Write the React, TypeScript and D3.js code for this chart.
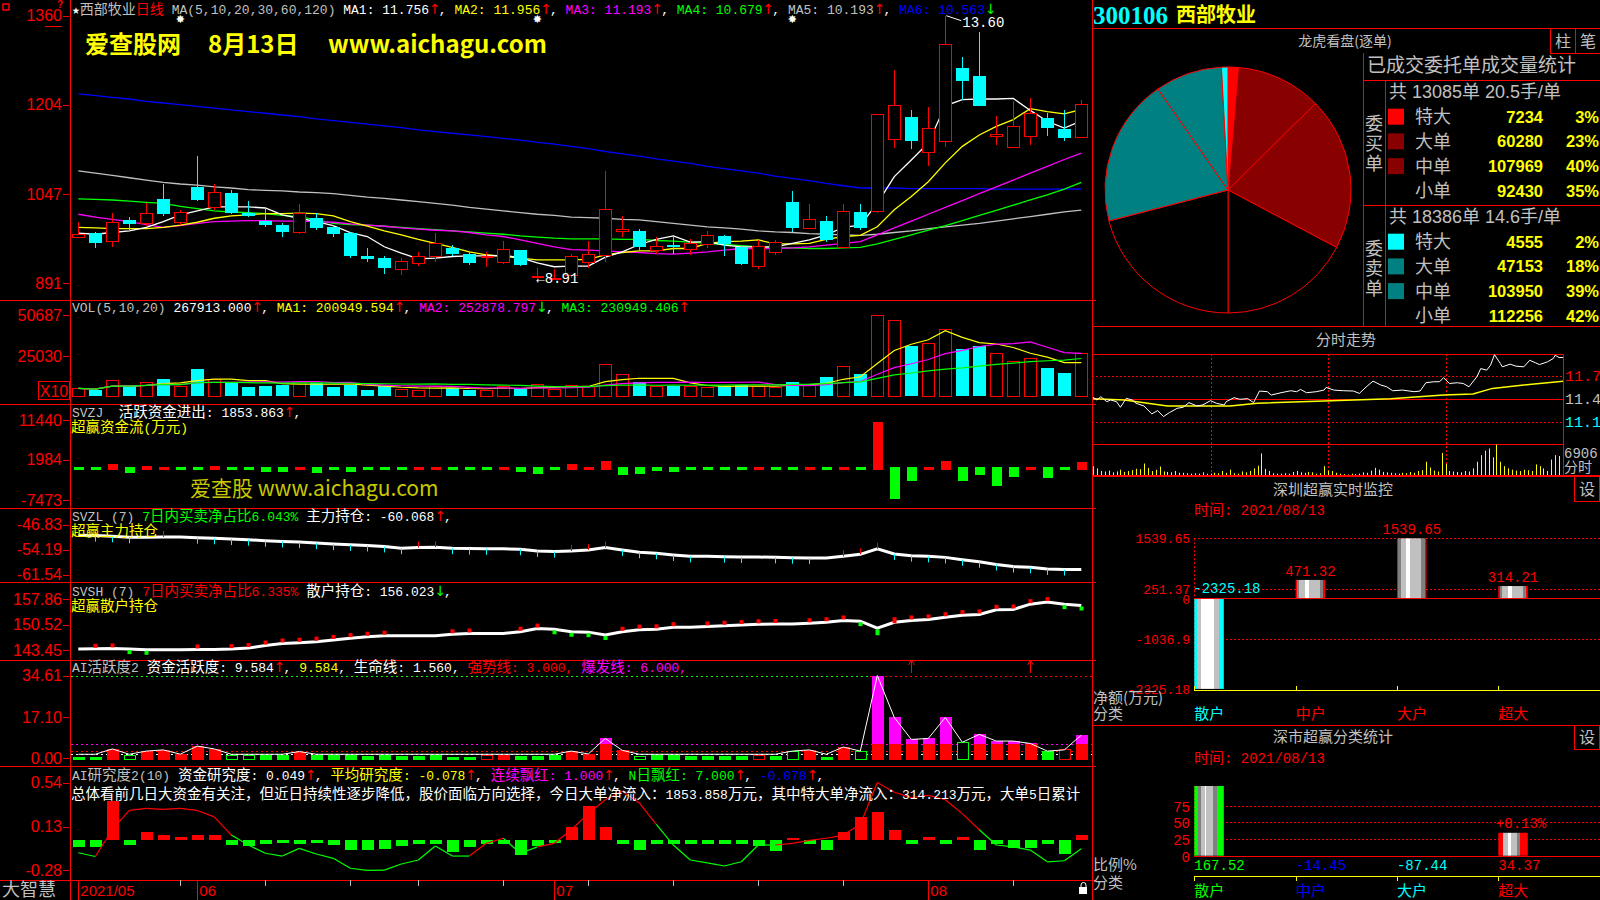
import React from 'react';
import * as d3 from 'd3';

// ---------- fonts & colours ----------
const MONO = '"Liberation Mono", "DejaVu Sans Mono", monospace';
const CJK = '"Noto Sans CJK SC", "Noto Sans", sans-serif';
const SANS = '"Liberation Sans", "Noto Sans CJK SC", sans-serif';
const ARROW = '"DejaVu Sans", sans-serif';
const RED = '#ff0000';
const CYAN = '#00ffff';
const GRAY = '#c0c0c0';
const YEL = '#ffff00';
const MAG = '#ff00ff';
const GRN = '#00ff00';
const BLUE = '#0000ff';
const WHITE = '#ffffff';

// ---------- daily bars, 2021-05-21 .. 2021-08-13 ----------
const monthTicks = [
  { i: 0, label: '2021/05' },
  { i: 7, label: '06' },
  { i: 28, label: '07' },
  { i: 50, label: '08' },
];
const weekTicks = [6, 11, 16, 20, 25, 30, 35, 40, 45, 55];

const opens = [9.73, 9.79, 9.66, 10.02, 9.96, 10.38, 9.99, 10.6, 10.24, 10.49, 10.14, 10.01, 9.93, 9.81, 10.05, 9.9, 9.79, 9.38, 9.35, 9.16, 9.27, 9.38, 9.53, 9.43, 9.38, 9.29, 9.49, 9.02, 9.0, 9.06, 9.29, 9.4, 9.82, 9.83, 9.49, 9.58, 9.51, 9.6, 9.74, 9.55, 9.22, 9.45, 10.34, 9.88, 10.0, 9.55, 10.16, 10.17, 11.44, 11.83, 11.21, 11.4, 12.69, 12.55, 11.5, 11.3, 11.49, 11.8, 11.62, 11.47];
const closes = [9.77, 9.62, 9.99, 9.95, 10.14, 10.13, 10.16, 10.37, 10.51, 10.14, 10.09, 9.94, 9.81, 10.14, 9.88, 9.78, 9.39, 9.33, 9.18, 9.3, 9.38, 9.61, 9.43, 9.27, 9.39, 9.51, 9.23, 9.03, 9.01, 9.38, 9.42, 10.21, 9.87, 9.55, 9.56, 9.55, 9.61, 9.75, 9.6, 9.25, 9.57, 9.63, 9.88, 10.03, 9.67, 10.18, 9.88, 11.88, 12.04, 11.41, 11.63, 13.11, 12.45, 12.01, 11.52, 11.67, 11.9, 11.64, 11.45, 12.05];
const highs = [9.98, 9.81, 10.14, 10.07, 10.31, 10.65, 10.2, 11.14, 10.65, 10.55, 10.35, 10.21, 9.96, 10.3, 10.14, 9.93, 9.81, 9.52, 9.38, 9.35, 9.46, 9.79, 9.58, 9.46, 9.45, 9.66, 9.49, 9.17, 9.16, 9.43, 9.66, 10.88, 10.09, 9.87, 9.72, 9.72, 9.68, 9.82, 9.75, 9.59, 9.67, 9.67, 10.53, 10.3, 10.09, 10.3, 10.3, 11.88, 12.64, 11.95, 12.0, 13.6, 12.88, 13.32, 11.84, 12.11, 12.15, 11.9, 11.95, 12.12];
const lows = [9.71, 9.52, 9.55, 9.83, 9.91, 10.09, 9.93, 10.35, 10.2, 10.13, 10.07, 9.89, 9.73, 9.77, 9.84, 9.72, 9.35, 9.29, 9.08, 9.06, 9.22, 9.29, 9.39, 9.23, 9.19, 9.24, 9.21, 8.91, 8.96, 9.01, 9.17, 9.29, 9.72, 9.49, 9.43, 9.43, 9.4, 9.52, 9.38, 9.23, 9.16, 9.4, 9.81, 9.86, 9.64, 9.54, 9.85, 10.14, 11.29, 11.27, 10.97, 11.3, 12.13, 12.01, 11.33, 11.3, 11.33, 11.5, 11.4, 11.45];

// moving averages as plotted by the terminal (5, 10, 20, 30, 60, 120 days)
const ma5 = [9.79, 9.77, 9.8, 9.83, 9.89, 9.99, 10.11, 10.18, 10.25, 10.25, 10.25, 10.23, 10.11, 10.05, 9.99, 9.92, 9.8, 9.73, 9.55, 9.44, 9.34, 9.35, 9.38, 9.39, 9.39, 9.4, 9.36, 9.27, 9.2, 9.21, 9.21, 9.37, 9.46, 9.59, 9.68, 9.74, 9.63, 9.64, 9.58, 9.55, 9.55, 9.55, 9.61, 9.67, 9.76, 9.89, 9.93, 10.31, 10.78, 11.07, 11.37, 12.02, 12.13, 12.14, 12.14, 12.15, 11.94, 11.75, 11.63, 11.756];
const ma10 = [9.89, 9.88, 9.87, 9.87, 9.87, 9.89, 9.93, 9.98, 10.05, 10.09, 10.11, 10.13, 10.13, 10.14, 10.13, 10.09, 9.99, 9.91, 9.83, 9.76, 9.68, 9.61, 9.54, 9.46, 9.41, 9.38, 9.35, 9.32, 9.32, 9.32, 9.33, 9.41, 9.45, 9.48, 9.48, 9.52, 9.52, 9.61, 9.64, 9.65, 9.67, 9.6, 9.6, 9.61, 9.68, 9.73, 9.75, 9.9, 10.2, 10.43, 10.69, 11.02, 11.31, 11.51, 11.66, 11.78, 11.97, 11.92, 11.88, 11.956];
const ma20 = [10.12, 10.07, 10.03, 9.99, 9.94, 9.89, 9.92, 9.96, 9.99, 10.0, 10.01, 10.01, 10.0, 10.0, 9.99, 9.98, 9.95, 9.93, 9.91, 9.88, 9.86, 9.84, 9.83, 9.8, 9.76, 9.73, 9.67, 9.61, 9.55, 9.5, 9.49, 9.48, 9.46, 9.45, 9.43, 9.42, 9.44, 9.46, 9.49, 9.52, 9.52, 9.52, 9.53, 9.55, 9.58, 9.61, 9.64, 9.76, 9.88, 10.0, 10.12, 10.24, 10.36, 10.48, 10.6, 10.72, 10.84, 10.96, 11.08, 11.193];
const ma30 = [10.39, 10.38, 10.37, 10.35, 10.33, 10.31, 10.26, 10.22, 10.18, 10.16, 10.15, 10.13, 10.1, 10.08, 10.02, 9.96, 9.94, 9.93, 9.91, 9.89, 9.87, 9.85, 9.83, 9.81, 9.79, 9.77, 9.74, 9.72, 9.7, 9.69, 9.69, 9.69, 9.68, 9.68, 9.66, 9.65, 9.63, 9.61, 9.59, 9.57, 9.55, 9.53, 9.53, 9.52, 9.52, 9.53, 9.54, 9.6, 9.68, 9.76, 9.84, 9.92, 10.01, 10.1, 10.19, 10.28, 10.37, 10.46, 10.56, 10.679];
const ma60 = [10.88, 10.84, 10.8, 10.76, 10.72, 10.68, 10.65, 10.63, 10.6, 10.58, 10.55, 10.54, 10.53, 10.51, 10.5, 10.48, 10.45, 10.42, 10.4, 10.37, 10.34, 10.31, 10.28, 10.24, 10.21, 10.18, 10.15, 10.12, 10.1, 10.07, 10.06, 10.05, 10.03, 10.02, 9.99, 9.96, 9.93, 9.9, 9.88, 9.86, 9.83, 9.81, 9.8, 9.78, 9.77, 9.76, 9.75, 9.77, 9.8, 9.83, 9.87, 9.9, 9.93, 9.96, 10.0, 10.04, 10.08, 10.12, 10.16, 10.193];
const ma120 = [12.23, 12.2, 12.17, 12.14, 12.1, 12.07, 12.04, 12.01, 11.98, 11.95, 11.92, 11.89, 11.86, 11.83, 11.79, 11.76, 11.73, 11.7, 11.67, 11.64, 11.6, 11.57, 11.54, 11.51, 11.48, 11.45, 11.42, 11.38, 11.35, 11.31, 11.27, 11.22, 11.18, 11.14, 11.09, 11.05, 11.01, 10.96, 10.92, 10.88, 10.84, 10.79, 10.75, 10.71, 10.66, 10.62, 10.58, 10.58, 10.58, 10.57, 10.57, 10.57, 10.57, 10.57, 10.56, 10.56, 10.56, 10.56, 10.56, 10.563];

// volume (x10 shares)
const volumes = [4800, 3900, 9800, 6100, 8600, 10600, 6100, 16700, 10600, 8600, 5800, 6400, 7100, 9400, 8100, 5800, 7100, 3800, 6100, 4600, 3800, 6400, 4800, 3900, 3800, 6100, 4600, 7500, 4600, 6700, 6400, 20000, 13800, 8600, 6400, 6400, 6000, 5500, 6000, 7000, 6500, 5500, 9000, 7000, 12000, 18800, 13500, 50687, 47600, 31300, 33000, 42000, 29400, 31300, 27000, 22000, 24000, 17500, 14100, 26791];

// SVZJ active fund flow (10k CNY)
const fundFlow = [-200, -200, 1300, -1400, 1000, 300, -200, -300, 1000, -300, -300, -1200, -1200, 300, -1400, -300, -1200, -300, -300, -300, 300, 300, -300, -200, -200, 300, -1300, -1600, -200, 1300, 800, 2200, -2000, -1600, -900, -1200, -300, -300, -300, -200, 300, -200, -300, 300, -300, 600, -300, 11440, -7473, -3300, 300, 2100, -3300, -1800, -4600, -2300, 300, -2600, -300, 1854];

// SVZL main-force holding, SVSH retail holding
const mainHold = [-50.0, -50.1, -50.3, -50.6, -50.6, -50.5, -50.5, -50.7, -50.9, -51.1, -51.3, -51.6, -51.8, -52.0, -52.3, -52.6, -52.8, -53.0, -53.3, -53.8, -53.6, -53.5, -53.8, -53.9, -54.0, -54.0, -54.1, -54.6, -54.8, -54.6, -54.3, -53.6, -54.3, -55.0, -55.3, -55.8, -56.2, -56.2, -56.3, -56.4, -56.4, -56.5, -56.6, -56.7, -56.7, -56.2, -55.6, -54.0, -55.5, -56.0, -56.2, -56.5, -57.2, -57.8, -58.6, -59.2, -59.4, -59.9, -60.1, -60.068];
const retailHold = [143.7, 143.8, 143.9, 143.7, 143.5, 143.5, 143.5, 143.6, 143.6, 143.7, 144.0, 144.7, 145.3, 145.5, 145.8, 146.3, 146.8, 147.2, 147.5, 147.5, 147.5, 147.5, 147.9, 148.1, 148.1, 148.1, 148.6, 149.5, 149.3, 148.6, 148.5, 147.7, 148.6, 149.2, 149.3, 149.9, 149.9, 150.1, 150.3, 150.5, 150.7, 150.8, 150.8, 151.0, 151.3, 151.8, 151.6, 149.6, 151.3, 151.8, 152.1, 152.7, 153.3, 153.5, 154.8, 154.9, 156.4, 157.0, 156.4, 156.023];

// AI activity: value and bar style (r red, R red hollow, g green, G green hollow)
const activity = [0.5, 0.6, 3.8, 1.2, 2.9, 3.4, 1.6, 5.0, 3.8, 1.2, 1.2, 1.2, 1.2, 2.7, 1.2, 1.2, 1.2, 1.0, 1.2, 1.0, 1.0, 1.2, 0.6, 0.5, 1.0, 1.2, 1.0, 1.0, 1.2, 2.9, 1.7, 8.2, 3.2, 0.8, 1.2, 1.2, 1.0, 1.0, 1.0, 0.8, 1.0, 0.8, 2.9, 3.4, 0.6, 4.6, 2.9, 34.61, 17.0, 7.8, 8.2, 17.0, 6.6, 9.9, 7.1, 7.1, 6.1, 2.9, 3.4, 9.584];
const activityStyle = 'ggrGrrrrrGGggrggggggggggRrgggrrrrGggggggRgGrgrGrrrrrGrrrrgRr';
const lifeLine = 1.56;
const strongLine = 3.0;
const burstLine = 6.0;

// AI research: bar values and average line
const research = [-0.065, -0.065, 0.37, -0.043, 0.08, 0.05, 0.03, 0.05, 0.05, -0.043, -0.055, -0.03, -0.027, -0.03, -0.027, -0.043, -0.09, -0.09, -0.076, -0.055, -0.03, -0.03, -0.105, -0.065, -0.03, -0.03, -0.135, -0.055, -0.02, 0.13, 0.32, 0.13, -0.03, -0.09, -0.03, -0.03, -0.03, -0.03, -0.03, -0.03, -0.05, -0.1, 0.02, -0.03, -0.09, 0.08, 0.22, 0.27, 0.1, -0.03, 0.03, -0.03, 0.03, -0.09, -0.03, -0.07, -0.07, -0.03, -0.13, 0.049];
const researchAvg = [-0.115, -0.15, 0.1, 0.28, 0.3, 0.29, 0.3, 0.28, 0.22, 0.05, -0.043, -0.12, -0.146, -0.074, -0.127, -0.167, -0.26, -0.28, -0.277, -0.22, -0.183, -0.052, -0.146, -0.146, -0.027, 0.02, -0.12, -0.06, -0.027, 0.1, 0.25, 0.38, 0.46, 0.35, 0.15, -0.043, -0.183, -0.21, -0.239, -0.199, -0.043, -0.043, -0.027, 0.0, 0.02, 0.05, 0.15, 0.54, 0.45, 0.4, 0.42, 0.38, 0.25, 0.1, -0.043, -0.06, -0.09, -0.2, -0.19, -0.078];
const researchRedFloor = -0.035;

// ---------- order statistics (pie + table) ----------
const orderLabels = ['特大', '大单', '中单', '小单'];
const buyVolumes = [7234, 60280, 107969, 92430];
const buyPct = ['3%', '23%', '40%', '35%'];
const sellVolumes = [4555, 47153, 103950, 112256];
const sellPct = ['2%', '18%', '39%', '42%'];
const buyColors = ['#ff0000', '#880000', '#880000', '#000000'];
const sellColors = ['#00ffff', '#008080', '#008080', '#000000'];

// ---------- intraday ----------
const prevClose = 11.47;
const intradayMinute = [0, 2, 4, 5, 7, 9, 12, 14, 17, 20, 22, 26, 28, 30, 33, 36, 39, 43, 46, 49, 53, 56, 60, 63, 67, 68, 72, 75, 79, 82, 85, 89, 91, 96, 101, 104, 106, 109, 114, 118, 119, 123, 128, 133, 136, 140, 143, 147, 150, 153, 158, 164, 167, 170, 174, 177, 179, 182, 186, 189, 192, 196, 198, 201, 203, 205, 208, 209, 213, 216, 220, 223, 226, 228, 232, 235, 236, 238, 240];
const intradayPrice = [11.497, 11.461, 11.505, 11.483, 11.438, 11.461, 11.438, 11.362, 11.483, 11.461, 11.416, 11.38, 11.326, 11.272, 11.317, 11.236, 11.29, 11.348, 11.362, 11.425, 11.38, 11.393, 11.452, 11.416, 11.393, 11.438, 11.492, 11.47, 11.479, 11.425, 11.582, 11.573, 11.528, 11.559, 11.586, 11.573, 11.604, 11.559, 11.573, 11.595, 11.631, 11.595, 11.586, 11.582, 11.55, 11.649, 11.716, 11.663, 11.64, 11.586, 11.595, 11.573, 11.582, 11.694, 11.708, 11.708, 11.762, 11.685, 11.694, 11.685, 11.64, 11.775, 11.887, 11.865, 11.932, 12.076, 11.955, 11.91, 11.946, 11.919, 11.91, 11.999, 11.964, 11.941, 11.977, 12.022, 12.067, 12.036, 12.036];
const avgMinute = [0, 16, 38, 70, 84, 118, 152, 179, 194, 204, 220, 240];
const avgPrice = [11.479, 11.461, 11.38, 11.38, 11.416, 11.447, 11.479, 11.528, 11.541, 11.618, 11.663, 11.716];
const intradayVol = [
  2000, 1500, 900, 800, 1000, 600, 800, 1200, 700, 900,
  1100, 1400, 1300, 2600, 1600, 900, 1200, 1900, 800, 700,
  600, 900, 500, 500, 400, 300, 400, 300, 600, 300,
  300, 500, 400, 900, 500, 1200, 400, 300, 800, 600,
  900, 1500, 2100, 4900, 1400, 900, 400, 300, 300, 400,
  300, 700, 900, 600, 500, 700, 600, 300, 400, 2000,
  1000, 900, 500, 300, 200, 100, 300, 200, 300, 600,
  500, 1000, 1600, 1200, 700, 600, 500, 400, 300, 500,
  400, 700, 500, 900, 1100, 3000, 1700, 1000, 800, 5000,
  2500, 900, 800, 700, 600, 900, 800, 1500, 3000, 4500,
  5500, 6000, 4000, 6906, 3000, 2000, 1500, 1200, 1000, 900,
  1200, 1100, 900, 2400, 2000, 1500, 900, 3500, 4500, 4300,
];

// ---------- category monitors ----------
const categories = ['散户', '中户', '大户', '超大'];
const netAmount = [-2325.18, 471.32, 1539.65, 314.21];
const netTicks = [1539.65, 251.37, -1036.9, -2325.18];
const ratioValues = [167.52, -14.45, -87.44, 34.37];
const ratioTicks = [0, 25, 50, 75];
const ratioColors = [GRN, BLUE, CYAN, RED];
const netCatColors = [CYAN, RED, RED, RED];

// ---------- helpers ----------
const isCJK = (ch: string) => /[\u2E80-\u9FFF\uFF00-\uFFEF\u3000-\u303F]/.test(ch);
const isArrow = (ch: string) => ch === '↑' || ch === '↓';
function segs(s: string) {
  const out: { t: string; k: number }[] = [];
  for (const ch of s) {
    const k = isArrow(ch) ? 2 : isCJK(ch) ? 1 : 0;
    if (out.length && out[out.length - 1].k === k) out[out.length - 1].t += ch;
    else out.push({ t: ch, k });
  }
  return out;
}
type Run = [string, string];
function Runs({ x, y, runs, size = 13, cjkSize = 14.5, anchor = 'start' }: { x: number; y: number; runs: Run[]; size?: number; cjkSize?: number; anchor?: string }) {
  const parts: any[] = [];
  runs.forEach(([t, col], k) => {
    segs(t).forEach((sg, j) => {
      const fam = sg.k === 1 ? CJK : sg.k === 2 ? ARROW : MONO;
      const fs = sg.k === 1 ? cjkSize : sg.k === 2 ? size + 1 : size;
      parts.push(
        <tspan key={k + '-' + j} fill={col} fontFamily={fam} fontSize={fs} letterSpacing={sg.k === 2 ? -2 : 0}>
          {sg.t}
        </tspan>
      );
    });
  });
  return (
    <text x={x} y={y} textAnchor={anchor as any} xmlSpace="preserve" style={{ whiteSpace: 'pre' }}>
      {parts}
    </text>
  );
}

const N = opens.length;
const days = d3.range(N);
const xDay = d3.scaleLinear().domain([0, N - 1]).range([78.3, 1081.3]);
const px = (i: number) => Math.round(xDay(i)) + 0.5;

// panel scales
const yPrice = d3.scaleLinear().domain([8.91, 13.6]).range([283.3, 15.7]);
const yVol = d3.scaleLinear().domain([-627, 50687]).range([397, 315]);
const yFlow = d3.scaleLinear().domain([-7473, 11440]).range([500, 420]);
const yMain = d3.scaleLinear().domain([-61.54, -46.83]).range([574.5, 524.5]);
const yRetail = d3.scaleLinear().domain([143.45, 157.86]).range([650, 599]);
const yAct = d3.scaleLinear().domain([0, 34.61]).range([758, 675.5]);
const yRes = d3.scaleLinear().domain([-0.28, 0.54]).range([870.4, 782.6]);

const rolling = (arr: number[], n: number) => arr.map((_, i) => d3.mean(arr.slice(Math.max(0, i - n + 1), i + 1)) as number);

function AxisLabels({ scale, values, fmt }: { scale: (v: number) => number; values: number[]; fmt: (v: number) => string }) {
  return (
    <g>
      {values.map((v, k) => (
        <g key={k}>
          <text x={62} y={scale(v) + 5.5} fill={RED} fontFamily={SANS} fontSize={16} textAnchor="end">{fmt(v)}</text>
          <line x1={63} x2={69} y1={Math.round(scale(v)) + 0.5} y2={Math.round(scale(v)) + 0.5} stroke={RED} />
        </g>
      ))}
    </g>
  );
}

export default function App() {
  const lineP = (arr: number[]) => d3.line<number>().x((_, i) => xDay(i)).y((v) => yPrice(v))(arr) || '';
  const maSpecs: [number[], string][] = [
    [ma120, BLUE], [ma60, GRAY], [ma30, GRN], [ma20, MAG], [ma10, YEL], [ma5, WHITE],
  ];
  const vMa = [[rolling(volumes, 5), YEL], [rolling(volumes, 10), MAG], [rolling(volumes, 20), GRN]] as [number[], string][];

  // pie
  const pieData = [
    ...buyVolumes.map((v, k) => ({ v, c: buyColors[k] })),
    ...sellVolumes.map((v, k) => ({ v, c: sellColors[k] })).reverse(),
  ];
  const pie = d3.pie<{ v: number; c: string }>().sort(null).value((d) => d.v)(pieData);
  const arc = d3.arc<d3.PieArcDatum<{ v: number; c: string }>>().innerRadius(0).outerRadius(123);

  // intraday scales
  const xMin = d3.scaleLinear().domain([0, 240]).range([1093, 1563]);
  const yIntra = d3.scaleLinear().domain([10.86, 12.08]).range([444.3, 354.3]);
  const yIntraVol = d3.scaleLinear().domain([0, 6906]).range([475, 444.5]);
  const intraLine = d3.line<number>().x((_, k) => xMin(intradayMinute[k])).y((v) => yIntra(v))(intradayPrice) || '';
  const avgLine = d3.line<number>().x((_, k) => xMin(avgMinute[k])).y((v) => yIntra(v))(avgPrice) || '';

  // category scales
  const xCat = d3.scaleLinear().domain([0, 3]).range([1194.3, 1498.3]);
  const yNet = d3.scaleLinear().domain([-2325.18, 1539.65]).range([688.9, 538.3]);
  const yRatio = d3.scaleLinear().domain([0, 75]).range([855.7, 805.7]);
  const ratioTop = 786;
  const barW = 29.5;

  const hline = (y: number, x1: number, x2: number, color = RED, dash?: string) => (
    <line x1={x1} x2={x2} y1={Math.round(y) + 0.5} y2={Math.round(y) + 0.5} stroke={color} strokeDasharray={dash} />
  );
  const vline = (x: number, y1: number, y2: number, color = RED, dash?: string) => (
    <line x1={Math.round(x) + 0.5} x2={Math.round(x) + 0.5} y1={y1} y2={y2} stroke={color} strokeDasharray={dash} />
  );

  return (
    <svg width={1600} height={900} style={{ position: 'fixed', left: 0, top: 0, background: '#000' }}>
      <defs>
        <clipPath id="leftClip"><rect x={71} y={0} width={1021} height={900} /></clipPath>
        <linearGradient id="barPos" x1="0" x2="1" y1="0" y2="0">
          <stop offset="0" stopColor={RED} /><stop offset="0.05" stopColor={RED} />
          <stop offset="0.05" stopColor="#808080" /><stop offset="0.13" stopColor="#808080" />
          <stop offset="0.13" stopColor={GRAY} /><stop offset="0.32" stopColor={GRAY} />
          <stop offset="0.32" stopColor={WHITE} /><stop offset="0.45" stopColor={WHITE} />
          <stop offset="0.45" stopColor={GRAY} /><stop offset="0.83" stopColor={GRAY} />
          <stop offset="0.83" stopColor="#808080" /><stop offset="0.94" stopColor="#808080" />
          <stop offset="0.94" stopColor={RED} /><stop offset="1" stopColor={RED} />
        </linearGradient>
        <linearGradient id="barNeg" x1="0" x2="1" y1="0" y2="0">
          <stop offset="0" stopColor={CYAN} /><stop offset="0.08" stopColor={CYAN} />
          <stop offset="0.08" stopColor={GRAY} /><stop offset="0.23" stopColor={GRAY} />
          <stop offset="0.23" stopColor={WHITE} /><stop offset="0.66" stopColor={WHITE} />
          <stop offset="0.66" stopColor={GRAY} /><stop offset="0.83" stopColor={GRAY} />
          <stop offset="0.83" stopColor={CYAN} /><stop offset="1" stopColor={CYAN} />
        </linearGradient>
        <linearGradient id="barGreen" x1="0" x2="1" y1="0" y2="0">
          <stop offset="0" stopColor={GRN} /><stop offset="0.13" stopColor={GRN} />
          <stop offset="0.13" stopColor="#808080" /><stop offset="0.22" stopColor="#808080" />
          <stop offset="0.22" stopColor={GRAY} /><stop offset="0.36" stopColor={GRAY} />
          <stop offset="0.36" stopColor={WHITE} /><stop offset="0.39" stopColor={WHITE} />
          <stop offset="0.39" stopColor={GRAY} /><stop offset="0.64" stopColor={GRAY} />
          <stop offset="0.64" stopColor="#808080" /><stop offset="0.77" stopColor="#808080" />
          <stop offset="0.77" stopColor={GRN} /><stop offset="1" stopColor={GRN} />
        </linearGradient>
        <linearGradient id="barRed" x1="0" x2="1" y1="0" y2="0">
          <stop offset="0" stopColor={RED} /><stop offset="0.17" stopColor={RED} />
          <stop offset="0.17" stopColor={GRAY} /><stop offset="0.34" stopColor={GRAY} />
          <stop offset="0.34" stopColor={WHITE} /><stop offset="0.42" stopColor={WHITE} />
          <stop offset="0.42" stopColor={GRAY} /><stop offset="0.62" stopColor={GRAY} />
          <stop offset="0.62" stopColor="#808080" /><stop offset="0.74" stopColor="#808080" />
          <stop offset="0.74" stopColor={RED} /><stop offset="1" stopColor={RED} />
        </linearGradient>
      </defs>
      <rect x={0} y={0} width={1600} height={900} fill="#000" />

      {/* ---------------- left frame ---------------- */}
      {vline(70, 0, 900)}
      {vline(1092, 0, 900)}
      {[300, 404, 508, 582, 660, 766, 880].map((y) => <g key={y}>{hline(y, 0, 1096)}</g>)}
      <rect x={3} y={4} width={6} height={6} fill="none" stroke={RED} strokeWidth={1.5} />
      <text x={60} y={8} fill={RED} fontFamily={SANS} fontWeight="bold" fontSize={10} textAnchor="middle">?</text>

      {/* axis labels */}
      <AxisLabels scale={yPrice} values={d3.range(4).map((k) => 8.91 + (k * (13.6 - 8.91)) / 3)} fmt={(v) => String(Math.round(v * 100))} />
      <line x1={45} x2={62} y1={26.5} y2={26.5} stroke={RED} />
      <AxisLabels scale={yVol} values={[50687, 25030]} fmt={(v) => String(v)} />
      <rect x={38.5} y={381.5} width={31} height={18} fill="none" stroke={RED} />
      <text x={54} y={397} fill={RED} fontFamily={SANS} fontSize={16} textAnchor="middle">X10</text>
      <AxisLabels scale={yFlow} values={[11440, 1984, -7473]} fmt={(v) => String(v)} />
      <AxisLabels scale={yMain} values={[-46.83, -54.19, -61.54]} fmt={(v) => v.toFixed(2)} />
      <AxisLabels scale={yRetail} values={[157.86, 150.52, 143.45]} fmt={(v) => v.toFixed(2)} />
      <AxisLabels scale={yAct} values={[34.61, 17.1, 0]} fmt={(v) => v.toFixed(2)} />
      <AxisLabels scale={yRes} values={[0.54, 0.13, -0.28]} fmt={(v) => v.toFixed(2)} />

      <g clipPath="url(#leftClip)">
        {/* ---------------- price panel ---------------- */}
        {maSpecs.map(([arr, c], k) => (
          <path key={k} d={lineP(arr)} fill="none" stroke={c} strokeWidth={1.3} />
        ))}
        {days.map((i) => {
          const up = closes[i] >= opens[i];
          const x = px(i);
          const yo = yPrice(opens[i]);
          const yc = yPrice(closes[i]);
          const top = Math.round(Math.min(yo, yc));
          const bot = Math.round(Math.max(yo, yc));
          const col = up ? RED : CYAN;
          return (
            <g key={i} shapeRendering="crispEdges">
              <line x1={x} x2={x} y1={yPrice(highs[i])} y2={top} stroke={col} />
              <line x1={x} x2={x} y1={bot} y2={yPrice(lows[i])} stroke={col} />
              {up ? (
                bot - top < 2 ? (
                  <line x1={x - 6} x2={x + 6} y1={top + 0.5} y2={top + 0.5} stroke={col} strokeWidth={2} />
                ) : (
                  <rect x={x - 6} y={top + 0.5} width={12} height={bot - top} fill="#000" stroke={col} strokeWidth={1.4} />
                )
              ) : (
                <rect x={x - 6.5} y={top} width={13} height={Math.max(bot - top, 2)} fill={col} />
              )}
            </g>
          );
        })}
        {/* extreme price notes */}
        {(() => {
          const iMax = d3.maxIndex(highs);
          const iMin = d3.minIndex(lows);
          return (
            <g fill={WHITE} fontFamily={MONO} fontSize={14}>
              <line x1={xDay(iMax) + 1} y1={yPrice(highs[iMax])} x2={xDay(iMax) + 16} y2={yPrice(highs[iMax]) + 5} stroke={WHITE} />
              <text x={xDay(iMax) + 17} y={yPrice(highs[iMax]) + 11}>{highs[iMax].toFixed(2)}</text>
              <text x={xDay(iMin) - 1} y={yPrice(lows[iMin]) + 0}>{'←' + lows[iMin].toFixed(2)}</text>
            </g>
          );
        })()}
        {[6, 27, 42].map((i) => (
          <text key={i} x={xDay(i)} y={23} fill={WHITE} fontFamily='"DejaVu Sans"' fontSize={11} textAnchor="middle">✸</text>
        ))}
        <Runs x={72} y={14} cjkSize={14} runs={[
          ['★', WHITE], ['西部牧业', GRAY], ['日线', RED], [' MA(5,10,20,30,60,120) ', GRAY],
          ['MA1: 11.756', WHITE], ['↑', RED], [', ', WHITE],
          ['MA2: 11.956', YEL], ['↑', RED], [', ', WHITE],
          ['MA3: 11.193', MAG], ['↑', RED], [', ', WHITE],
          ['MA4: 10.679', GRN], ['↑', RED], [', ', WHITE],
          ['MA5: 10.193', GRAY], ['↑', RED], [', ', WHITE],
          ['MA6: 10.563', BLUE], ['↓', GRN],
        ]} />
        <text y={53} fill={YEL} fontFamily={CJK} fontWeight="bold" fontSize={24}>
          <tspan x={85}>爱查股网</tspan>
          <tspan x={208}>8月13日</tspan>
          <tspan x={328}>www.aichagu.com</tspan>
        </text>

        {/* ---------------- volume panel ---------------- */}
        {days.map((i) => {
          const up = closes[i] >= opens[i];
          const x = px(i);
          const t = Math.round(yVol(volumes[i]));
          const b = Math.round(yVol(0));
          return up ? (
            <rect key={i} x={x - 6} y={t + 0.5} width={12} height={b - t - 0.5} fill="none" stroke={RED} shapeRendering="crispEdges" />
          ) : (
            <rect key={i} x={x - 6.5} y={t} width={13} height={b - t} fill={CYAN} shapeRendering="crispEdges" />
          );
        })}
        {vMa.map(([arr, c], k) => (
          <path key={k} d={d3.line<number>().x((_, i) => xDay(i)).y((v) => yVol(v))(arr) || ''} fill="none" stroke={c} strokeWidth={1.2} />
        ))}
        <Runs x={72} y={312} runs={[
          ['VOL(5,10,20) ', GRAY], ['267913.000', WHITE], ['↑', RED], [', ', WHITE],
          ['MA1: 200949.594', YEL], ['↑', RED], [', ', WHITE],
          ['MA2: 252878.797', MAG], ['↓', GRN], [', ', WHITE],
          ['MA3: 230949.406', GRN], ['↑', RED],
        ]} />

        {/* ---------------- SVZJ panel ---------------- */}
        {days.map((i) => {
          const v = fundFlow[i];
          const y0 = yFlow(0);
          const y1 = yFlow(v);
          const h = Math.max(Math.abs(y1 - y0), 3);
          const top = v >= 0 ? y0 - h + 1.5 : y0 - 1.5;
          return <rect key={i} x={px(i) - 5} y={top} width={10} height={h} fill={v >= 0 ? RED : GRN} shapeRendering="crispEdges" />;
        })}
        <Runs x={72} y={417} runs={[['SVZJ  ', GRAY], ['活跃资金进出: 1853.863', WHITE], ['↑', RED], [',', WHITE]]} />
        <Runs x={71} y={432} runs={[['超赢资金流(万元)', YEL]]} />
        <text x={190} y={496} fill="#c8c800" fontFamily={CJK} fontSize={21}>爱查股 www.aichagu.com</text>

        {/* ---------------- SVZL panel ---------------- */}
        <path d={d3.line<number>().x((_, i) => xDay(i)).y((v) => yMain(v))(mainHold) || ''} fill="none" stroke={WHITE} strokeWidth={3} />
        {days.slice(1).map((i) => {
          const d = mainHold[i] - mainHold[i - 1];
          if (Math.abs(d) < 0.05) return null;
          const y = yMain(mainHold[i]);
          return <line key={i} x1={px(i)} x2={px(i)} y1={d > 0 ? y - 6 : y} y2={d > 0 ? y : y + 6} stroke={d > 0 ? RED : CYAN} />;
        })}
        <Runs x={72} y={521} runs={[['SVZL (7) ', GRAY], ['7日内买卖净占比6.043%', GRN], [' 主力持仓: -60.068', WHITE], ['↑', RED], [',', WHITE]]} />
        <Runs x={71} y={536} runs={[['超赢主力持仓', YEL]]} />

        {/* ---------------- SVSH panel ---------------- */}
        <path d={d3.line<number>().x((_, i) => xDay(i)).y((v) => yRetail(v))(retailHold) || ''} fill="none" stroke={WHITE} strokeWidth={3} />
        {days.slice(1).map((i) => {
          const d = retailHold[i] - retailHold[i - 1];
          if (Math.abs(d) < 0.05) return null;
          const y = yRetail(retailHold[i]);
          return <rect key={i} x={px(i) - 2} y={d > 0 ? y - 5 : y + 1} width={4} height={Math.abs(d) > 1.5 ? 6 : 4} fill={d > 0 ? RED : GRN} />;
        })}
        <Runs x={72} y={596} runs={[['SVSH (7) ', GRAY], ['7日内买卖净占比6.335%', RED], [' 散户持仓: 156.023', WHITE], ['↓', GRN], [',', WHITE]]} />
        <Runs x={71} y={611} runs={[['超赢散户持仓', YEL]]} />

        {/* ---------------- AI activity panel ---------------- */}
        {hline(yAct(34.61), 71, 870, GRN, '2 3')}
        {hline(yAct(34.61), 870, 1092, RED, '2 3')}
        {hline(yAct(burstLine), 71, 1092, MAG, '2 3')}
        {hline(yAct(strongLine), 71, 1092, RED, '2 3')}
        {hline(yAct(lifeLine), 71, 1092, WHITE, '2 3')}
        {days.map((i) => {
          const v = activity[i];
          const s = activityStyle[i];
          const x = px(i);
          const base = yAct(0) + 2;
          const isRed = s === 'r' || s === 'R';
          const col = isRed ? RED : GRN;
          const hollow = s === 'R' || s === 'G';
          const capped = isRed && v > burstLine;
          const yTop = yAct(capped ? burstLine : v);
          return (
            <g key={i} shapeRendering="crispEdges">
              {hollow ? (
                <rect x={x - 5.5} y={yTop} width={11} height={base - yTop - 0.5} fill="#000" stroke={col} />
              ) : (
                <rect x={x - 6} y={yTop} width={12} height={base - yTop} fill={col} />
              )}
              {capped && <rect x={x - 6} y={yAct(v)} width={12} height={yAct(burstLine) - yAct(v)} fill={MAG} />}
            </g>
          );
        })}
        <path d={d3.line<number>().x((_, i) => xDay(i)).y((v) => yAct(Math.max(v, lifeLine)))(activity) || ''} fill="none" stroke={WHITE} strokeWidth={1} />
        {[49, 56].map((i) => (
          <g key={i} stroke={RED} fill="none">
            <line x1={px(i)} x2={px(i)} y1={673} y2={661} />
            <path d={`M${px(i) - 3},665 L${px(i)},660 L${px(i) + 3},665`} />
          </g>
        ))}
        <Runs x={72} y={672} runs={[
          ['AI活跃度2 ', GRAY], ['资金活跃度: 9.584', WHITE], ['↑', RED], [', ', WHITE], ['9.584', YEL], [', ', WHITE],
          ['生命线: 1.560, ', WHITE], ['强势线: 3.000, ', RED], ['爆发线: 6.000,', MAG],
        ]} />

        {/* ---------------- AI research panel ---------------- */}
        {days.map((i) => {
          const v = research[i];
          const y0 = yRes(0);
          const y1 = yRes(v);
          return <rect key={i} x={px(i) - 6} y={Math.min(y0, y1)} width={12} height={Math.max(Math.abs(y1 - y0), 2)} fill={v >= 0 ? RED : GRN} shapeRendering="crispEdges" />;
        })}
        {days.slice(1).map((i) => (
          <line key={i} x1={xDay(i - 1)} x2={xDay(i)} y1={yRes(researchAvg[i - 1])} y2={yRes(researchAvg[i])}
            stroke={researchAvg[i] > researchRedFloor ? RED : GRN} strokeWidth={1.2} />
        ))}
        <Runs x={72} y={780} runs={[
          ['AI研究度2(10) ', GRAY], ['资金研究度: 0.049', WHITE], ['↑', RED], [', ', WHITE],
          ['平均研究度: -0.078', YEL], ['↑', RED], [', ', WHITE],
          ['连续飘红: 1.000', MAG], ['↑', RED], [', ', WHITE],
          ['N日飘红: 7.000', GRN], ['↑', RED], [', ', WHITE], ['-0.078', BLUE], ['↑', RED], [',', WHITE],
        ]} />
        <Runs x={71} y={799} runs={[['总体看前几日大资金有关注，但近日持续性逐步降低，股价面临方向选择，今日大单净流入：1853.858万元，其中特大单净流入：314.213万元，大单5日累计', WHITE]]} />
      </g>

      {/* ---------------- date axis ---------------- */}
      {monthTicks.map((m) => (
        <g key={m.i}>
          {vline(xDay(m.i), 880, 900)}
          <text x={xDay(m.i) + 2} y={896} fill={RED} fontFamily={SANS} fontSize={15}>{m.label}</text>
        </g>
      ))}
      {weekTicks.map((i) => <g key={i}>{vline(xDay(i), 880, 886, GRAY)}</g>)}
      <text x={2} y={896} fill={GRAY} fontFamily={CJK} fontSize={18}>大智慧</text>
      <g fill="none" stroke={WHITE}>
        <rect x={1079.5} y={887.5} width={7} height={6} fill={WHITE} />
        <path d="M1081,887 v-2 a2.5,2.5 0 0 1 5,0 v2" />
      </g>

      {/* ================= right column ================= */}
      <text x={1093} y={24} fill={CYAN} fontFamily='"Liberation Serif", serif' fontWeight="bold" fontSize={25}>300106</text>
      <text x={1176} y={22} fill={YEL} fontFamily={CJK} fontWeight="bold" fontSize={20}>西部牧业</text>
      {hline(28, 1092, 1600)}
      <text x={1345} y={46} fill={GRAY} fontFamily={CJK} fontSize={14} textAnchor="middle">龙虎看盘(逐单)</text>
      <rect x={1550.5} y={28.5} width={25} height={25} fill="none" stroke={RED} />
      <rect x={1575.5} y={28.5} width={25} height={25} fill="none" stroke={RED} />
      <text x={1563} y={47} fill={GRAY} fontFamily={CJK} fontSize={16} textAnchor="middle">柱</text>
      <text x={1588} y={47} fill={GRAY} fontFamily={CJK} fontSize={16} textAnchor="middle">笔</text>

      {/* pie */}
      <g transform="translate(1228,190)">
        {pie.map((p, k) => (
          <path key={k} d={arc(p) || ''} fill={p.data.c} stroke={RED} strokeWidth={1} />
        ))}
      </g>

      {/* order table */}
      {vline(1363, 53, 326)}
      {hline(80, 1363, 1600)}
      {hline(205, 1363, 1600)}
      {vline(1385, 80, 326)}
      {hline(326, 1092, 1600)}
      <text x={1367} y={72} fill={GRAY} fontFamily={CJK} fontSize={19}>已成交委托单成交量统计</text>
      {['委', '买', '单'].map((c, k) => (
        <text key={c} x={1374} y={130 + k * 20} fill={GRAY} fontFamily={CJK} fontSize={18} textAnchor="middle">{c}</text>
      ))}
      {['委', '卖', '单'].map((c, k) => (
        <text key={c} x={1374} y={255 + k * 20} fill={GRAY} fontFamily={CJK} fontSize={18} textAnchor="middle">{c}</text>
      ))}
      {[
        { y: 91.7, head: '共 13085单 20.5手/单', vols: buyVolumes, pct: buyPct, cols: buyColors },
        { y: 216.7, head: '共 18386单 14.6手/单', vols: sellVolumes, pct: sellPct, cols: sellColors },
      ].map((blk, b) => (
        <g key={b}>
          <text x={1389} y={blk.y + 6.5} fill={GRAY} fontFamily={SANS} fontSize={18}>{blk.head}</text>
          {orderLabels.map((lab, k) => {
            const cy = blk.y + 25 + k * 24.7;
            return (
              <g key={k}>
                {blk.cols[k] !== '#000000' && <rect x={1388} y={cy - 8} width={16} height={16} fill={blk.cols[k]} />}
                <text x={1415} y={cy + 6.5} fill={GRAY} fontFamily={CJK} fontSize={18}>{lab}</text>
                <text x={1543} y={cy + 6} fill={YEL} fontFamily={SANS} fontWeight="bold" fontSize={16.5} textAnchor="end">{blk.vols[k]}</text>
                <text x={1599} y={cy + 6} fill={YEL} fontFamily={SANS} fontWeight="bold" fontSize={16.5} textAnchor="end">{blk.pct[k]}</text>
              </g>
            );
          })}
        </g>
      ))}

      {/* intraday */}
      <text x={1346} y={345} fill={GRAY} fontFamily={CJK} fontSize={15} textAnchor="middle">分时走势</text>
      {hline(354, 1092, 1563)}
      {hline(yIntra(prevClose), 1092, 1563)}
      {hline(yIntra(11.78), 1092, 1563, RED, '2 2')}
      {hline(yIntra(11.16), 1092, 1563, RED, '2 2')}
      {hline(444, 1092, 1563)}
      {hline(475, 1092, 1600)}
      {vline(1563, 354, 475)}
      {[60, 120, 180].map((m) => <g key={m}>{vline(xMin(m), 354, 475, RED, '2 2')}</g>)}
      {intradayVol.map((v, k) => (
        <line key={k} x1={Math.round(xMin(k * 2)) + 0.5} x2={Math.round(xMin(k * 2)) + 0.5} y1={yIntraVol(v)} y2={475} stroke={YEL} />
      ))}
      <path d={avgLine} fill="none" stroke={YEL} strokeWidth={1.5} />
      <path d={intraLine} fill="none" stroke={WHITE} strokeWidth={1} />
      <text x={1565} y={yIntra(11.78) + 5} fill={RED} fontFamily={MONO} fontSize={15}>11.78</text>
      <text x={1565} y={yIntra(prevClose) + 5} fill={GRAY} fontFamily={MONO} fontSize={15}>11.47</text>
      <text x={1565} y={yIntra(11.16) + 5} fill={CYAN} fontFamily={MONO} fontSize={15}>11.16</text>
      <text x={1564} y={458} fill={GRAY} fontFamily={MONO} fontSize={14}>6906</text>
      <text x={1564} y={472} fill={GRAY} fontFamily={CJK} fontSize={14}>分时</text>

      {/* Shenzhen net amount monitor */}
      {hline(476, 1092, 1600)}
      <text x={1333} y={495} fill={GRAY} fontFamily={CJK} fontSize={15} textAnchor="middle">深圳超赢实时监控</text>
      <rect x={1574.5} y={476.5} width={25} height={25} fill="none" stroke={RED} />
      <text x={1587} y={495} fill={GRAY} fontFamily={CJK} fontSize={16} textAnchor="middle">设</text>
      <Runs x={1194} y={515} runs={[['时间: 2021/08/13', RED]]} size={14} cjkSize={15} />
      {netTicks.map((v) => (
        <g key={v}>
          <text x={1190} y={yNet(v) + 5} fill={RED} fontFamily={MONO} fontSize={13} textAnchor="end">{String(v)}</text>
          {v !== netTicks[netTicks.length - 1] && hline(yNet(v), 1194, 1600, RED, '2 2')}
        </g>
      ))}
      <text x={1190} y={yNet(0) + 6} fill={RED} fontFamily={MONO} fontSize={13} textAnchor="end">0</text>
      {vline(1194, yNet(netTicks[0]), yNet(netTicks[3]), RED, '2 2')}
      {netAmount.map((v, k) => {
        const x = xCat(k);
        const y0 = yNet(0);
        const y1 = yNet(v);
        return (
          <g key={k}>
            <rect x={x} y={Math.min(y0, y1)} width={barW} height={Math.abs(y1 - y0)} fill={v >= 0 ? 'url(#barPos)' : 'url(#barNeg)'} />
            <text x={v >= 0 ? x + barW / 2 : x - 1} y={v >= 0 ? y1 - 4 : y0 - 5} fill={v >= 0 ? RED : CYAN} fontFamily={MONO} fontSize={14} textAnchor={v >= 0 ? 'middle' : 'start'}>{v.toFixed(2)}</text>
          </g>
        );
      })}
      {hline(yNet(0), 1194, 1600)}
      {hline(690, 1194, 1600, YEL)}
      {categories.map((c, k) => <g key={k}>{vline(xCat(k), 686, 690, YEL)}</g>)}
      <text x={1093} y={703} fill={GRAY} fontFamily={CJK} fontSize={15}>净额(万元)</text>
      <text x={1093} y={719} fill={GRAY} fontFamily={CJK} fontSize={15}>分类</text>
      {categories.map((c, k) => (
        <text key={k} x={xCat(k)} y={719} fill={netCatColors[k]} fontFamily={CJK} fontSize={15}>{c}</text>
      ))}

      {/* Shenzhen ratio statistics */}
      {hline(725, 1092, 1600)}
      <text x={1333} y={742} fill={GRAY} fontFamily={CJK} fontSize={15} textAnchor="middle">深市超赢分类统计</text>
      <rect x={1574.5} y={725.5} width={25} height={24} fill="none" stroke={RED} />
      <text x={1587} y={743} fill={GRAY} fontFamily={CJK} fontSize={16} textAnchor="middle">设</text>
      <Runs x={1194} y={763} runs={[['时间: 2021/08/13', RED]]} size={14} cjkSize={15} />
      {ratioTicks.map((v) => (
        <g key={v}>
          <text x={1190} y={yRatio(v) + 6} fill={RED} fontFamily={MONO} fontSize={14} textAnchor="end">{v}</text>
          {v > 0 && hline(yRatio(v), 1194, 1600, RED, '2 2')}
        </g>
      ))}
      {vline(1194, ratioTop, yRatio(0), RED, '2 2')}
      {ratioValues.map((v, k) => {
        if (v <= 0) return null;
        const x = xCat(k);
        const yt = Math.max(yRatio(v), ratioTop);
        return <rect key={k} x={x} y={yt} width={barW} height={yRatio(0) - yt} fill={k === 0 ? 'url(#barGreen)' : 'url(#barRed)'} />;
      })}
      <text x={xCat(3) + barW / 2 + 8} y={yRatio(ratioValues[3]) - 5} fill={RED} fontFamily={MONO} fontSize={14} textAnchor="middle">+0.13%</text>
      {hline(yRatio(0), 1194, 1600)}
      {ratioValues.map((v, k) => (
        <text key={k} x={xCat(k)} y={870} fill={ratioColors[k]} fontFamily={MONO} fontSize={14}>{v.toFixed(2)}</text>
      ))}
      {hline(876, 1194, 1600, YEL)}
      {categories.map((c, k) => <g key={k}>{vline(xCat(k), 876, 881, YEL)}</g>)}
      <text x={1093} y={870} fill={GRAY} fontFamily={CJK} fontSize={15}>比例%</text>
      <text x={1093} y={888} fill={GRAY} fontFamily={CJK} fontSize={15}>分类</text>
      {categories.map((c, k) => (
        <text key={k} x={xCat(k)} y={896} fill={ratioColors[k]} fontFamily={CJK} fontSize={15}>{c}</text>
      ))}
    </svg>
  );
}
